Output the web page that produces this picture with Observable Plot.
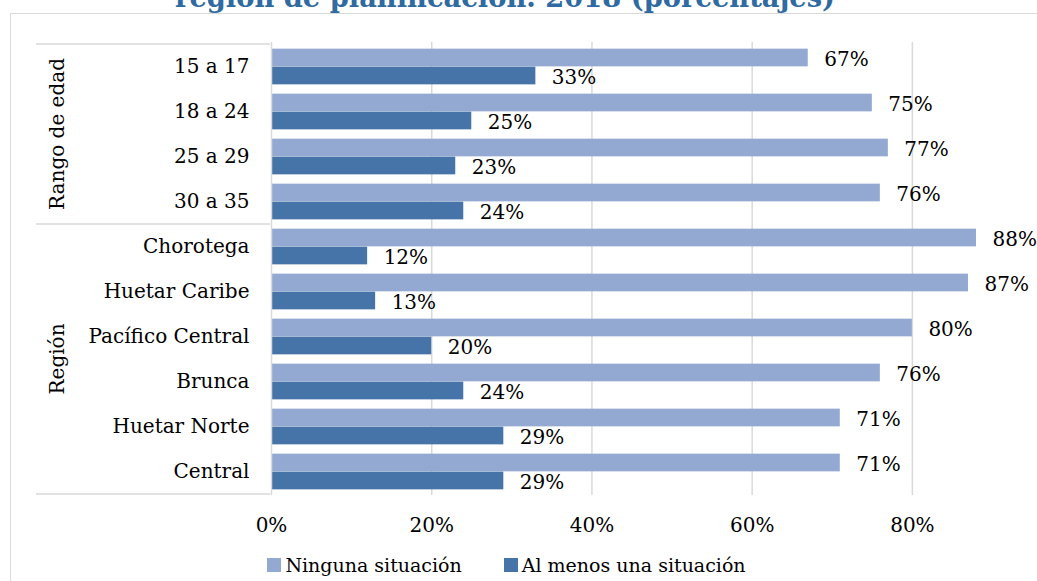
<!DOCTYPE html>
<html><head><meta charset="utf-8">
<script src="https://cdn.jsdelivr.net/npm/d3@7"></script>
<script src="https://cdn.jsdelivr.net/npm/@observablehq/plot@0.6"></script>
<style>
html,body{margin:0;padding:0;background:#fff;overflow:hidden;width:1037px;height:581px;}
#wrap{position:relative;width:1037px;height:581px;font-family:"DejaVu Serif",serif;color:#000;}
#frame{position:absolute;left:10px;top:13px;width:1100px;height:700px;border:1.5px solid #D9D9D9;box-sizing:border-box;}
#chart{position:absolute;left:0;top:0;}
#legend{position:absolute;top:552px;left:0;width:1013px;display:flex;justify-content:center;gap:42px;font-size:19px;line-height:26px;}
.item{display:flex;align-items:center;gap:4px}
.sw{width:14px;height:14px;display:inline-block}
</style></head><body>
<div id="wrap"><div id="frame"></div><div id="chart"></div><div id="legend"></div></div>
<script>
const categories = ["15 a 17","18 a 24","25 a 29","30 a 35","Chorotega","Huetar Caribe","Pacífico Central","Brunca","Huetar Norte","Central"];
const groupOf = ["Rango de edad","Rango de edad","Rango de edad","Rango de edad","Región","Región","Región","Región","Región","Región"];
const groupNames = ["Rango de edad","Región"];
const seriesNames = ["Ninguna situación","Al menos una situación"];
const ninguna = [67,75,77,76,88,87,80,76,71,71];
const alMenos = [33,25,23,24,12,13,20,24,29,29];
const xTicks = [0,0.2,0.4,0.6,0.8];
const titleText = "región de planificación. 2018 (porcentajes)";
const colors = ["#94A9D1","#4774A8"];

const W=1037, H=540, mT=42, mB=45, mL=271, mR=45;
const FS = 20;
const step = (H-mT-mB)/categories.length;
const barH = 18;
const gap = (step - 2*barH)/2;
const fmt = d3.format(".0%");
const rows = categories.map((c,i)=>({category:c, group:groupOf[i], n:ninguna[i]/100, a:alMenos[i]/100}));

const chart = Plot.plot({
  width:W, height:H, marginTop:mT, marginBottom:mB, marginLeft:mL, marginRight:mR,
  style:{fontFamily:"DejaVu Serif", fontSize:FS+"px", color:"#000", background:"transparent", overflow:"visible"},
  x:{domain:[0,0.9]},
  y:{domain:categories, padding:0},
  marks:[
    Plot.ruleX(xTicks.slice(1),{stroke:"#D9D9D9", strokeWidth:1.5}),
    Plot.barX(rows,{y:"category", x:"n", fill:colors[0], insetTop:gap, insetBottom:step/2}),
    Plot.barX(rows,{y:"category", x:"a", fill:colors[1], insetTop:step/2, insetBottom:gap}),
    Plot.ruleX([0],{stroke:"#D9D9D9", strokeWidth:1.5}),
    Plot.text(rows,{y:"category", x:"n", text:d=>fmt(d.n), textAnchor:"start", dx:16, dy:-7.5, fontSize:FS, fill:"#000"}),
    Plot.text(rows,{y:"category", x:"a", text:d=>fmt(d.a), textAnchor:"start", dx:16, dy:10.5, fontSize:FS, fill:"#000"}),
    Plot.axisX({ticks:xTicks, tickFormat:fmt, tickSize:0, tickPadding:22, label:null, fontSize:FS}),
    Plot.axisY({tickSize:0, tickPadding:22, label:null, fontSize:FS})
  ]
});

const ys = chart.scale("y");
const svg = d3.select(chart);
const y0 = c => ys.apply(c);
const bw = ys.bandwidth;
const bounds = [y0(categories[0]), y0("Chorotega"), y0(categories[categories.length-1]) + bw];
const g = svg.append("g");
bounds.forEach(b=>{
  g.append("line").attr("x1",36).attr("x2",mL-1).attr("y1",b).attr("y2",b)
   .attr("stroke","#D9D9D9").attr("stroke-width",1.5);
});
groupNames.forEach(gn=>{
  const cats = categories.filter((c,i)=>groupOf[i]===gn);
  const cy = (y0(cats[0]) + y0(cats[cats.length-1]) + bw)/2;
  g.append("text").attr("transform",`translate(57,${cy}) rotate(-90)`)
   .attr("text-anchor","middle").attr("dy","0.35em").attr("font-size",FS).attr("fill","#000").text(gn);
});
svg.append("text").attr("x",505).attr("y",7).attr("text-anchor","middle")
  .attr("font-weight","bold").attr("font-size",27).attr("fill","#2F6AA0")
  .attr("textLength",660).attr("lengthAdjust","spacingAndGlyphs").text(titleText);

document.getElementById("chart").appendChild(chart);

const legend = document.getElementById("legend");
seriesNames.forEach((s,i)=>{
  const it = document.createElement("div"); it.className="item";
  const sw = document.createElement("span"); sw.className="sw"; sw.style.background=colors[i];
  const tx = document.createElement("span"); tx.textContent=s;
  it.appendChild(sw); it.appendChild(tx); legend.appendChild(it);
});
</script></body></html>
